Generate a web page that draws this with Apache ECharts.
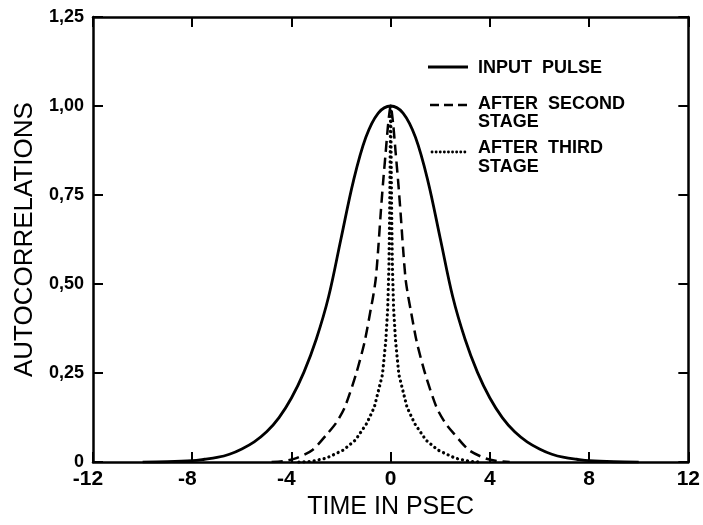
<!DOCTYPE html>
<html>
<head>
<meta charset="utf-8">
<script src="https://cdn.jsdelivr.net/npm/echarts@6/dist/echarts.min.js"></script>
<style>
html,body{margin:0;padding:0;background:#fff;}
#chart{width:703px;height:525px;}
</style>
</head>
<body>
<div id="chart"></div>
<script>
// ---- data ----
const seriesNames = ['INPUT PULSE', 'AFTER SECOND STAGE', 'AFTER THIRD STAGE'];
const xTickLabels = ['-12', '-8', '-4', '0', '4', '8', '12'];
const yTickLabels = ['0', '0,25', '0,50', '0,75', '1,00', '1,25'];

const inputPulse = [
  [-10, 0], [-9, 0.001], [-8, 0.004], [-7.5, 0.008], [-7, 0.013], [-6.5, 0.022],
  [-6, 0.037], [-5.5, 0.057], [-5, 0.085], [-4.5, 0.125], [-4, 0.18],
  [-3.5, 0.252], [-3, 0.345], [-2.5, 0.465], [-2, 0.628], [-1.5, 0.79],
  [-1, 0.912], [-0.5, 0.98], [0, 1.0], [0.5, 0.98], [1, 0.912],
  [1.5, 0.79], [2, 0.628], [2.5, 0.465], [3, 0.345], [3.5, 0.252],
  [4, 0.18], [4.5, 0.125], [5, 0.085], [5.5, 0.057], [6, 0.037],
  [6.5, 0.022], [7, 0.013], [7.5, 0.008], [8, 0.004], [9, 0.001], [10, 0]
];
const afterSecond = [
  [-4.8, 0], [-4.3, 0.003], [-3.8, 0.011], [-3.15, 0.034], [-2.55, 0.08],
  [-2.2, 0.11], [-1.85, 0.154], [-1.4, 0.246], [-1.05, 0.338], [-0.8, 0.43],
  [-0.7, 0.468], [-0.6, 0.515], [-0.5, 0.6], [-0.4, 0.7], [-0.3, 0.79],
  [-0.2, 0.87], [-0.1, 0.95], [0, 1.0], [0.1, 0.95], [0.2, 0.87],
  [0.3, 0.79], [0.4, 0.7], [0.5, 0.6], [0.6, 0.515], [0.7, 0.468],
  [0.8, 0.43], [1.05, 0.338], [1.4, 0.246], [1.85, 0.154], [2.2, 0.11],
  [2.55, 0.08], [3.15, 0.034], [3.8, 0.011], [4.3, 0.003], [4.8, 0]
];
const afterThird = [
  [-3.7, 0], [-3.2, 0.002], [-2.6, 0.011], [-1.9, 0.034], [-1.42, 0.062],
  [-0.97, 0.108], [-0.66, 0.154], [-0.33, 0.246], [-0.2, 0.338], [-0.12, 0.43],
  [-0.07, 0.55], [-0.04, 0.7], [-0.02, 0.85], [0, 1.0], [0.02, 0.85],
  [0.04, 0.7], [0.07, 0.55], [0.12, 0.43], [0.2, 0.338], [0.33, 0.246],
  [0.66, 0.154], [0.97, 0.108], [1.42, 0.062], [1.9, 0.034], [2.6, 0.011],
  [3.2, 0.002], [3.7, 0]
];

// ---- chart ----
const FONT = '"Liberation Sans", Arial, sans-serif';
const chart = echarts.init(document.getElementById('chart'), null, {renderer: 'canvas'});

const axisLineStyle = {color: '#000', width: 2.5};
const tickStyle = {color: '#000', width: 2};

function xFmt(v) {
  const s = xTickLabels[Math.round((v + 12) / 4)];
  return v < 0 ? '{neg|' + s + '}' : s;
}
function yFmt(v) {
  return yTickLabels[Math.round(v / 0.25)];
}

const option = {
  backgroundColor: '#fff',
  animation: false,
  grid: {left: 93, right: 10, top: 17, bottom: 56, containLabel: false},
  xAxis: [
    {
      type: 'value', min: -12, max: 12, interval: 4, position: 'bottom',
      axisLine: {show: true, onZero: false, lineStyle: axisLineStyle},
      axisTick: {show: true, inside: true, length: 10, lineStyle: tickStyle},
      splitLine: {show: false},
      axisLabel: {
        show: true, margin: 7, color: '#000', fontFamily: FONT, fontSize: 21, fontWeight: 'bold',
        formatter: xFmt,
        rich: {neg: {padding: [0, 10, 0, 0], color: '#000', fontFamily: FONT, fontSize: 21, fontWeight: 'bold'}}
      },
      name: 'TIME IN PSEC', nameLocation: 'middle', nameGap: 23,
      nameTextStyle: {color: '#000', fontFamily: FONT, fontSize: 25}
    },
    {
      type: 'value', min: -12, max: 12, interval: 4, position: 'top',
      axisLine: {show: true, onZero: false, lineStyle: axisLineStyle},
      axisTick: {show: true, inside: true, length: 10, lineStyle: tickStyle},
      splitLine: {show: false}, axisLabel: {show: false}
    }
  ],
  yAxis: [
    {
      type: 'value', min: 0, max: 1.25, interval: 0.25, position: 'left',
      axisLine: {show: true, onZero: false, lineStyle: axisLineStyle},
      axisTick: {show: true, inside: true, length: 10, lineStyle: tickStyle},
      splitLine: {show: false},
      axisLabel: {show: true, margin: 9, color: '#000', fontFamily: FONT, fontSize: 18, fontWeight: 'bold', formatter: yFmt},
      name: 'AUTOCORRELATIONS', nameLocation: 'middle', nameGap: 55, nameRotate: 90,
      nameTextStyle: {color: '#000', fontFamily: FONT, fontSize: 26}
    },
    {
      type: 'value', min: 0, max: 1.25, interval: 0.25, position: 'right',
      axisLine: {show: true, onZero: false, lineStyle: axisLineStyle},
      axisTick: {show: true, inside: true, length: 10, lineStyle: tickStyle},
      splitLine: {show: false}, axisLabel: {show: false}
    }
  ],
  series: [
    {
      name: seriesNames[0], type: 'line', xAxisIndex: 0, yAxisIndex: 0,
      data: inputPulse, symbol: 'none', smooth: 0.35,
      lineStyle: {color: '#000', width: 2.8}
    },
    {
      name: seriesNames[1], type: 'line', xAxisIndex: 0, yAxisIndex: 0,
      data: afterSecond, symbol: 'none', smooth: 0.25,
      lineStyle: {color: '#000', width: 2.5, type: [11, 6]}
    },
    {
      name: seriesNames[2], type: 'line', xAxisIndex: 0, yAxisIndex: 0,
      data: afterThird, symbol: 'none', smooth: false,
      lineStyle: {color: '#000', width: 3.2, type: [0.1, 5], cap: 'round'}
    }
  ],
  graphic: [
    {type: 'line', shape: {x1: 428, y1: 67, x2: 468, y2: 67}, style: {stroke: '#000', lineWidth: 3}},
    {type: 'text', x: 478, y: 68, style: {text: 'INPUT  PULSE', fill: '#000', font: 'bold 18px ' + FONT, verticalAlign: 'middle'}},
    {type: 'line', shape: {x1: 430, y1: 105, x2: 468, y2: 105}, style: {stroke: '#000', lineWidth: 2.5, lineDash: [9, 5]}},
    {type: 'text', x: 478, y: 104, style: {text: 'AFTER  SECOND', fill: '#000', font: 'bold 18px ' + FONT, verticalAlign: 'middle'}},
    {type: 'text', x: 478, y: 122, style: {text: 'STAGE', fill: '#000', font: 'bold 18px ' + FONT, verticalAlign: 'middle'}},
    {type: 'line', shape: {x1: 432, y1: 152, x2: 466, y2: 152}, style: {stroke: '#000', lineWidth: 2.8, lineDash: [0.1, 4], lineCap: 'round'}},
    {type: 'text', x: 478, y: 148, style: {text: 'AFTER  THIRD', fill: '#000', font: 'bold 18px ' + FONT, verticalAlign: 'middle'}},
    {type: 'text', x: 478, y: 167, style: {text: 'STAGE', fill: '#000', font: 'bold 18px ' + FONT, verticalAlign: 'middle'}}
  ]
};
chart.setOption(option);
</script>
</body>
</html>
